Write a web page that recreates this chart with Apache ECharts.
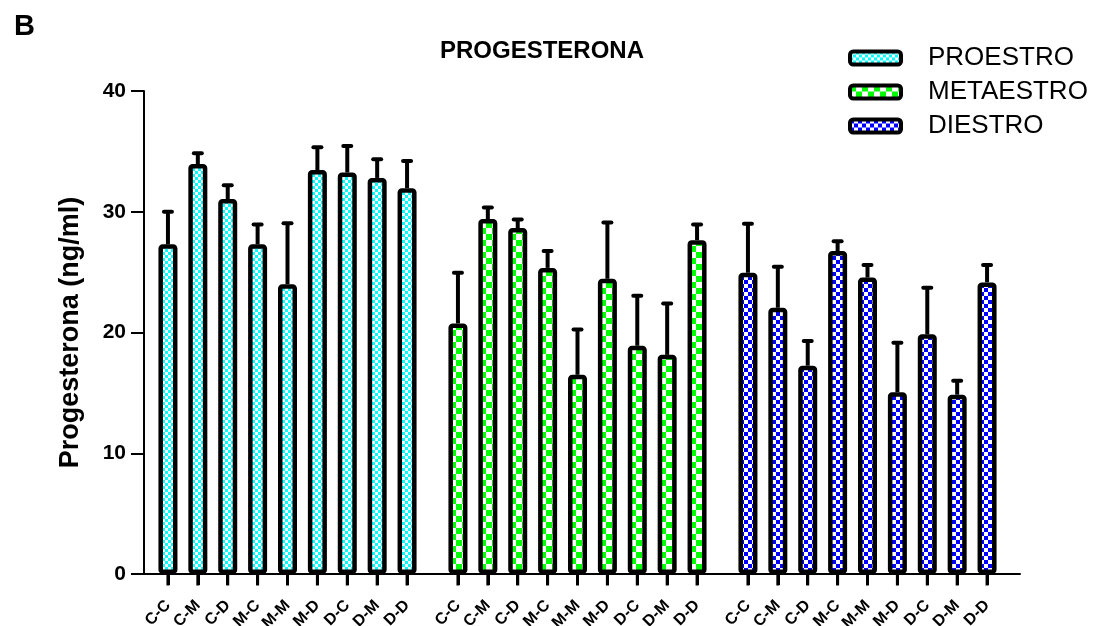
<!DOCTYPE html>
<html>
<head>
<meta charset="utf-8">
<script src="https://cdn.jsdelivr.net/npm/echarts@6/dist/echarts.min.js"></script>
<style>html,body{margin:0;padding:0;background:#fff}#c{width:1114px;height:626px}</style>
</head>
<body>
<div id="c"></div>
<script>
const categories = ['C-C','C-M','C-D','M-C','M-M','M-D','D-C','D-M','D-D'];
const phases = ['PROESTRO','METAESTRO','DIESTRO'];
const yTicks = [0, 10, 20, 30, 40];
const proestroMean = [27.3, 33.95, 31.05, 27.3, 24.0, 33.45, 33.25, 32.8, 31.95];
const proestroErr  = [2.7, 0.9, 1.15, 1.65, 5.05, 1.9, 2.2, 1.55, 2.25];
const metaestroMean = [20.75, 29.4, 28.65, 25.35, 16.5, 24.45, 18.9, 18.15, 27.65];
const metaestroErr  = [4.2, 0.95, 0.7, 1.4, 3.75, 4.65, 4.15, 4.25, 1.3];
const diestroMean = [24.95, 22.05, 17.25, 26.75, 24.55, 15.05, 19.85, 14.85, 24.15];
const diestroErr  = [4.05, 3.4, 2.05, 0.8, 1.05, 4.1, 3.85, 1.15, 1.45];

const means = [proestroMean, metaestroMean, diestroMean];
const errs = [proestroErr, metaestroErr, diestroErr];

function checker(c1, size) {
  const cv = document.createElement('canvas');
  cv.width = size * 2; cv.height = size * 2;
  const ctx = cv.getContext('2d');
  ctx.fillStyle = '#ffffff'; ctx.fillRect(0, 0, size * 2, size * 2);
  ctx.fillStyle = c1;
  ctx.fillRect(0, 0, size, size);
  ctx.fillRect(size, size, size, size);
  return { image: cv, repeat: 'repeat' };
}
const fills = [checker('#00ffff', 3), checker('#00ff00', 6), checker('#0000ff', 4)];

const FONT = "'Liberation Sans', Arial, sans-serif";
const gridLefts = [153, 443, 733];

const grids = [{ left: 144, right: 94, top: 91, bottom: 52, containLabel: false, outerBoundsMode: 'none' }];
const xAxes = [{
  gridIndex: 0, type: 'value', min: 0, max: 1,
  axisLine: { show: true, onZero: false, lineStyle: { color: '#000', width: 2 } },
  axisTick: { show: false }, axisLabel: { show: false }, splitLine: { show: false }
}];
const yAxes = [{
  gridIndex: 0, type: 'value', min: yTicks[0], max: yTicks[yTicks.length - 1], interval: 10,
  name: 'Progesterona (ng/ml)', nameLocation: 'middle', nameGap: 60,
  nameTextStyle: { fontFamily: FONT, fontWeight: 'bold', fontSize: 27, color: '#000' },
  axisLine: { show: true, lineStyle: { color: '#000', width: 2 } },
  axisTick: { show: true, length: 13, lineStyle: { color: '#000', width: 2 } },
  axisLabel: { fontFamily: FONT, fontWeight: 'bold', fontSize: 21, color: '#000', margin: 18 },
  splitLine: { show: false }
}];
const series = [];

for (let g = 0; g < 3; g++) {
  const gi = g + 1;
  grids.push({ left: gridLefts[g], width: 269, top: 91, bottom: 52, containLabel: false, outerBoundsMode: 'none' });
  xAxes.push({
    gridIndex: gi, type: 'category', data: categories,
    axisLine: { show: true, onZero: false, lineStyle: { color: '#000', width: 2 } },
    axisTick: { show: true, inside: false, alignWithLabel: true, interval: 0, length: 11,
      lineStyle: { color: '#000', width: 3, opacity: 1 } },
    axisLabel: { rotate: 45, fontFamily: FONT, fontWeight: 'bold', fontSize: 16, color: '#000', margin: 29, interval: 0 }
  });
  yAxes.push({ gridIndex: gi, type: 'value', min: 0, max: 40, show: false, splitLine: { show: false } });
  series.push({
    name: phases[g], type: 'bar', xAxisIndex: gi, yAxisIndex: gi, z: 3,
    barWidth: 19, data: means[g],
    itemStyle: { color: fills[g], borderColor: '#000', borderWidth: 4.5, borderRadius: 2 }
  });
  series.push({
    type: 'custom', xAxisIndex: gi, yAxisIndex: gi, z: 2, silent: true, clip: false,
    data: means[g].map((m, i) => [i, m, m + errs[g][i]]),
    renderItem: function (params, api) {
      const x = api.value(0);
      const base = api.coord([x, api.value(1)]);
      const top = api.coord([x, api.value(2)]);
      return {
        type: 'group',
        children: [
          { type: 'line', shape: { x1: base[0], y1: base[1], x2: top[0], y2: top[1] },
            style: { stroke: '#000', lineWidth: 4 } },
          { type: 'rect', shape: { x: top[0] - 6, y: top[1] - 2, width: 12, height: 4, r: 2 },
            style: { fill: '#000' } }
        ]
      };
    }
  });
  // category tick marks hanging below the zero line
  series.push({
    type: 'scatter', xAxisIndex: gi, yAxisIndex: gi, z: 20, silent: true, clip: false,
    data: categories.map((c, i) => [i, 0]),
    symbol: 'rect', symbolSize: [3, 11], symbolOffset: [0, 6],
    itemStyle: { color: '#000', opacity: 1 }
  });
}

const chart = echarts.init(document.getElementById('c'), null, { renderer: 'canvas' });
chart.setOption({
  backgroundColor: '#fff',
  animation: false,
  title: [
    { text: 'PROGESTERONA', left: 537, top: 34, textAlign: 'center',
      textStyle: { fontFamily: FONT, fontWeight: 'bold', fontSize: 24, color: '#000' } },
    { text: 'B', left: 9, top: 7,
      textStyle: { fontFamily: FONT, fontWeight: 'bold', fontSize: 29, color: '#000' } }
  ],
  legend: {
    data: phases, orient: 'vertical', left: 843, top: 40,
    icon: 'roundRect', itemWidth: 51, itemHeight: 13, itemGap: 8,
    itemStyle: { borderColor: '#000', borderWidth: 4 },
    textStyle: { fontFamily: FONT, fontSize: 26, color: '#000', padding: [0, 0, 0, 22] }
  },
  grid: grids,
  xAxis: xAxes,
  yAxis: yAxes,
  series: series
});
</script>
</body>
</html>
